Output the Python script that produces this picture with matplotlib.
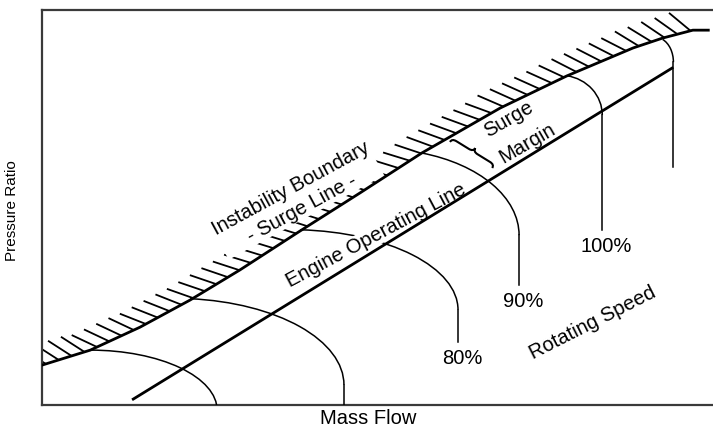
import numpy as np
import matplotlib
matplotlib.use("Agg")
import matplotlib.pyplot as plt
from matplotlib.patches import Arc, PathPatch
from matplotlib.path import Path
from matplotlib.collections import LineCollection

plt.rcParams["font.family"] = ["Liberation Sans", "DejaVu Sans"]

# compressor map in arbitrary units (0-100 on both axes)
surge_flow = [0.0, 7.2, 14.6, 22.1, 29.5, 38.5, 47.4, 56.6, 68.3, 78.2, 88.1, 92.5, 97.0, 99.3]
surge_pr = [10.1, 13.9, 19.7, 26.6, 34.2, 44.1, 53.7, 63.8, 75.2, 83.3, 90.4, 92.9, 94.9, 94.9]
hatch_end_flow = 97.0

op_flow = [13.6, 93.9]
op_pr = [1.5, 85.3]

# constant speed lines: elliptic knee (centre, semi-axes) then a straight drop
speed_labels = ["", "", "80%", "90%", "100%", ""]
speed_cx = [7.2, 19.8, 37.0, 50.4, 77.2, 91.4]
speed_cy = [-1.3, 5.1, 24.1, 43.0, 73.4, 86.8]
speed_a = [18.9, 25.2, 25.0, 20.7, 6.3, 2.7]
speed_b = [15.2, 21.9, 20.3, 21.8, 10.1, 6.3]
speed_start = [7.2, 22.1, 38.5, 56.6, 78.2, 92.5]
speed_end = [0.0, 0.0, 15.9, 30.4, 44.3, 60.3]

fig = plt.figure(figsize=(7.13, 4.30), dpi=100)
ax = fig.add_axes([0.0589, 0.0581, 0.9411, 0.9186])
ax.set_xlim(0, 100)
ax.set_ylim(0, 100)
ax.set_xticks([])
ax.set_yticks([])
for side in ("left", "top", "bottom"):
    ax.spines[side].set_linewidth(1.6)
    ax.spines[side].set_color("#3a3a3a")
ax.spines["right"].set_visible(False)

ax.plot(surge_flow, surge_pr, color="black", lw=2.0, zorder=4)
ax.plot(op_flow, op_pr, color="black", lw=2.0, zorder=4)

for cx, cy, a, b, xs, ye, lab in zip(speed_cx, speed_cy, speed_a, speed_b,
                                     speed_start, speed_end, speed_labels):
    u = (xs - cx) / a
    theta = np.degrees(np.arctan2(b * np.sqrt(1 - u ** 2), a * u))
    ax.add_patch(Arc((cx, cy), 2 * a, 2 * b, theta1=0, theta2=theta,
                     edgecolor="black", lw=1.1, zorder=3))
    if cy > ye:
        ax.plot([cx + a, cx + a], [cy, ye], color="black", lw=1.1, zorder=3)
    if lab:
        ax.annotate(lab, (cx + a, ye), xytext=(3, -12), textcoords="offset points",
                    ha="center", va="center", fontsize=14.5)

# hatching on the unstable side of the surge line, spaced along its length
disp = ax.transData.transform(np.column_stack([surge_flow, surge_pr]))
s = np.concatenate([[0], np.cumsum(np.hypot(*np.diff(disp, axis=0).T))])
s_stop = s[surge_flow.index(hatch_end_flow)]
marks = np.arange(4, s_stop + 0.1, 13.5)


def along(sv):
    return np.column_stack([np.interp(sv, s, disp[:, 0]), np.interp(sv, s, disp[:, 1])])


base = along(marks)
tang = along(marks + 6) - along(marks - 6)
tang /= np.linalg.norm(tang, axis=1)[:, None]
rot = np.deg2rad(130)
dirs = np.column_stack([tang[:, 0] * np.cos(rot) - tang[:, 1] * np.sin(rot),
                        tang[:, 0] * np.sin(rot) + tang[:, 1] * np.cos(rot)])
tips = base + 28 * dirs
inv = ax.transData.inverted()
segs = np.stack([inv.transform(base), inv.transform(tips)], axis=1)
ax.add_collection(LineCollection(segs, colors="black", linewidths=1.3, zorder=2))

# curly brace marking the surge margin
p0, p1 = ax.transData.transform([(60.8, 66.6), (67.1, 60.0)])
L = np.hypot(*(p1 - p0))
u = (p1 - p0) / L
v = np.array([-u[1], u[0]])
h, r = 4.0, 5.0
local = [(0, 0), (0, h), (r, h), (L / 2 - r, h), (L / 2, h), (L / 2, 2 * h),
         (L / 2, h), (L / 2 + r, h), (L - r, h), (L, h), (L, 0)]
codes = [Path.MOVETO, Path.CURVE3, Path.CURVE3, Path.LINETO, Path.CURVE3, Path.CURVE3,
         Path.CURVE3, Path.CURVE3, Path.LINETO, Path.CURVE3, Path.CURVE3]
pts = inv.transform(np.array([p0 + x * u + y * v for x, y in local]))
ax.add_patch(PathPatch(Path(pts, codes), fill=False, lw=1.5, edgecolor="black", zorder=4))

white = dict(facecolor="white", edgecolor="none", pad=0.3)
ax.text(37.9, 52.2, "Instability Boundary\n- Surge Line -", rotation=28.5,
        rotation_mode="anchor", ha="center", va="center", multialignment="center",
        linespacing=1.25, fontsize=14.5, bbox=white, zorder=3.5)
ax.text(49.8, 43.0, "Engine Operating Line", rotation=28, rotation_mode="anchor",
        ha="center", va="center", fontsize=14.5, bbox=white, zorder=3.5)
ax.text(71.2, 69.6, "Surge\nMargin", rotation=30, rotation_mode="anchor",
        ha="center", va="center", multialignment="left", linespacing=1.75,
        fontsize=14.5, zorder=3.5)
ax.text(82.1, 20.8, "Rotating Speed", rotation=27, rotation_mode="anchor",
        ha="center", va="center", fontsize=14.5)

ax.set_xlabel("Mass Flow", fontsize=14.5)
ax.xaxis.set_label_coords(0.486, -0.01)
ax.set_ylabel("Pressure Ratio", fontsize=11)
ax.yaxis.set_label_coords(-0.035, 0.491)

fig.savefig("out.png", dpi=100)
